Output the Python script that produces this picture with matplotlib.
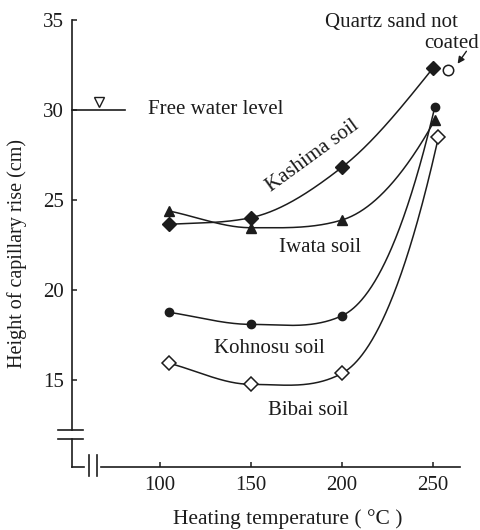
import numpy as np
import matplotlib
matplotlib.use("Agg")
import matplotlib.pyplot as plt
from matplotlib.lines import Line2D

plt.rcParams['font.family'] = ['Liberation Serif', 'DejaVu Serif']

# ---------------- data ----------------
kashima_t = [105, 150, 200, 250]
kashima = [23.65, 24.02, 26.82, 32.33]
iwata_t = [105, 150, 200, 251]
iwata = [24.39, 23.46, 23.89, 29.44]
kohnosu_t = [105, 150, 200, 251]
kohnosu = [18.76, 18.09, 18.57, 30.17]
bibai_t = [105, 150, 200, 253]
bibai = [15.93, 14.76, 15.37, 28.50]
quartz_t = [258]
quartz = [32.22]
free_water = 30.0

xticks = [100, 150, 200, 250]
yticks = [15, 20, 25, 30, 35]

INK = '#1c1c1c'
FS = 15


def smooth_curve(x, y, xs, p=0.4):
    """Hermite curve: interior slopes = geometric mean of neighbouring secants."""
    x = np.asarray(x, float)
    y = np.asarray(y, float)
    n = len(x)
    h = np.diff(x)
    d = np.diff(y) / h
    m = np.zeros(n)
    for i in range(1, n - 1):
        if d[i - 1] * d[i] > 0:
            m[i] = np.sign(d[i]) * np.sqrt(d[i - 1] * d[i])

    def end_slope(dd, mm):
        if mm == 0 or dd * mm <= 0:
            return dd
        return dd * (dd / mm) ** p

    m[0] = end_slope(d[0], m[1])
    m[-1] = end_slope(d[-1], m[-2])
    out = np.empty_like(xs)
    for k, xv in enumerate(xs):
        i = min(max(np.searchsorted(x, xv) - 1, 0), n - 2)
        t = (xv - x[i]) / h[i]
        h00 = 2 * t ** 3 - 3 * t ** 2 + 1
        h10 = t ** 3 - 2 * t ** 2 + t
        h01 = -2 * t ** 3 + 3 * t ** 2
        h11 = t ** 3 - t ** 2
        out[k] = h00 * y[i] + h10 * h[i] * m[i] + h01 * y[i + 1] + h11 * h[i] * m[i + 1]
    return out


fig = plt.figure(figsize=(4.8, 5.3), dpi=100)
W, H = 480, 530
x0_px, x1_px = 72, 470
y0_px, y1_px = 466.7, 15
ax = fig.add_axes([x0_px / W, 1 - y0_px / H, (x1_px - x0_px) / W, (y0_px - y1_px) / H])

px_per_T = 1.82
px_per_v = 18.0


def T(px):
    return 100 + (px - 160) / px_per_T


def V(py):
    return 30 - (py - 110) / px_per_v


xmin, xmax = T(x0_px), T(x1_px)
ymin, ymax = V(y0_px), V(y1_px)
ax.set_xlim(xmin, xmax)
ax.set_ylim(ymin, ymax)

for s in ['top', 'right']:
    ax.spines[s].set_visible(False)
ax.spines['left'].set_bounds(V(430), 35)
ax.spines['bottom'].set_bounds(T(101), T(460))
for s in ['left', 'bottom']:
    ax.spines[s].set_linewidth(1.2)
    ax.spines[s].set_color(INK)

ax.set_xticks(xticks)
ax.set_yticks(yticks)
ax.tick_params(direction='in', length=3.5, width=1.1, colors=INK, labelsize=FS)
ax.tick_params(axis='y', pad=6)
ax.tick_params(axis='x', pad=7)

# axis breaks
lw_ax = 1.2
for yy in (V(430), V(439)):
    ax.add_line(Line2D([T(58), T(83)], [yy, yy], color=INK, lw=lw_ax, clip_on=False))
ax.add_line(Line2D([xmin, xmin], [V(439), ymin], color=INK, lw=lw_ax, clip_on=False))
ax.add_line(Line2D([xmin, T(84)], [ymin, ymin], color=INK, lw=lw_ax, clip_on=False))
for xx in (T(89), T(97)):
    ax.add_line(Line2D([xx, xx], [V(455), V(476)], color=INK, lw=lw_ax, clip_on=False))

# curves
for tt, vals in ((kashima_t, kashima), (iwata_t, iwata), (kohnosu_t, kohnosu), (bibai_t, bibai)):
    xs = np.linspace(tt[0], tt[-1], 400)
    ax.plot(xs, smooth_curve(tt, vals, xs), color=INK, lw=1.1, zorder=2)

ax.plot(kashima_t, kashima, 'D', color=INK, ms=7, zorder=3)
ax.plot(iwata_t, iwata, '^', color=INK, ms=7, zorder=3)
ax.plot(kohnosu_t, kohnosu, 'o', color=INK, ms=6, zorder=3)
ax.plot(bibai_t, bibai, 'D', mfc='white', mec=INK, mew=1.1, ms=7, zorder=3)
ax.plot(quartz_t, quartz, 'o', mfc='white', mec=INK, mew=1.1, ms=7.5, zorder=3)

# free water level
ax.plot([xmin, T(125)], [free_water, free_water], color=INK, lw=1.2, clip_on=False)
ax.plot([T(99)], [free_water + 0.45], 'v', mfc='white', mec=INK, mew=1.0, ms=6.5)
ax.text(T(148), free_water + 0.05, 'Free water level', fontsize=FS, color=INK,
        ha='left', va='center')

# curve labels
ax.text(T(313), V(156), 'Kashima soil', fontsize=FS, color=INK, rotation=36,
        ha='center', va='center', rotation_mode='anchor')
ax.text(T(320), V(247), 'Iwata soil', fontsize=FS, color=INK, ha='center', va='center')
ax.text(T(269.5), V(348), 'Kohnosu soil', fontsize=FS, color=INK, ha='center', va='center')
ax.text(T(308), V(410), 'Bibai soil', fontsize=FS, color=INK, ha='center', va='center')

ax.text(T(391), V(22), 'Quartz sand not', fontsize=FS, color=INK, ha='center', va='center')
ax.text(T(479), V(43), 'coated', fontsize=FS, color=INK, ha='right', va='center')
ax.annotate('', xy=(T(456), V(66)), xytext=(T(468), V(49)),
            arrowprops=dict(arrowstyle='-|>', color=INK, lw=1.0, mutation_scale=10),
            annotation_clip=False)

# axis labels
fig.text(17 / W, 1 - 253 / H, 'Height of capillary rise (cm)', rotation=90,
         fontsize=14.5, color=INK, ha='center', va='center')
fig.text(288 / W, 1 - 519 / H, 'Heating temperature ( °C )', fontsize=15.5, color=INK,
         ha='center', va='center')

fig.savefig('out.png', dpi=100, facecolor='white')
